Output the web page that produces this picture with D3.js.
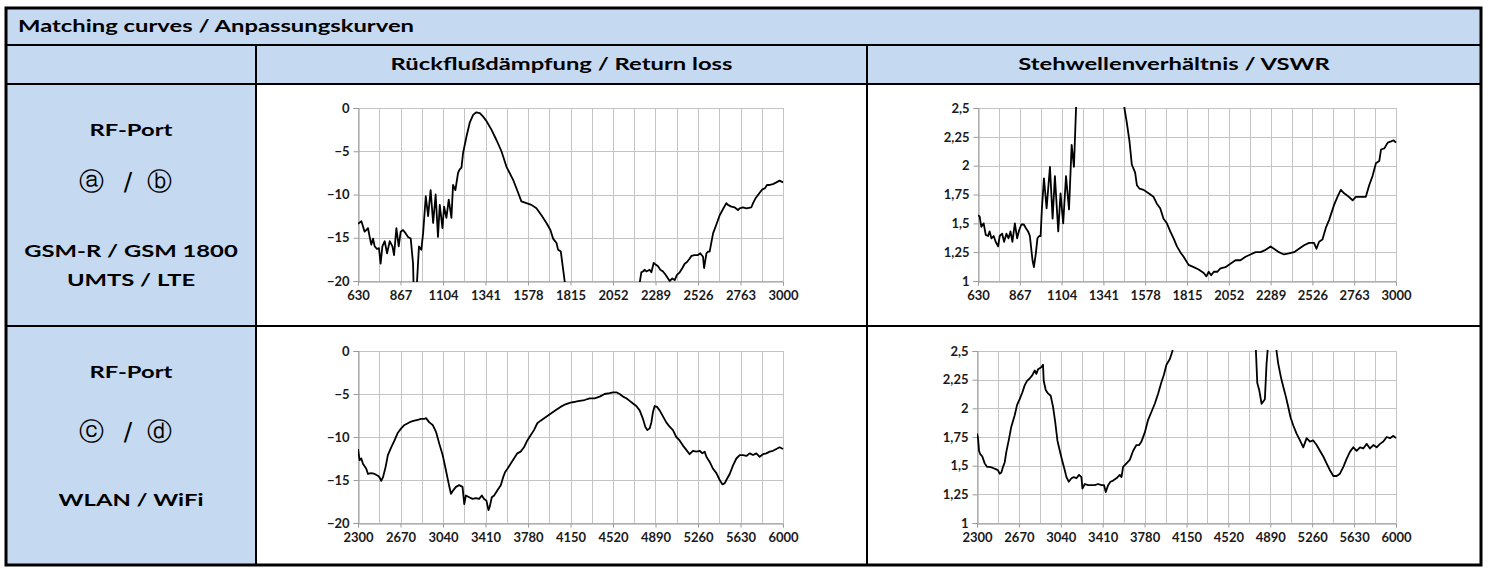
<!DOCTYPE html>
<html>
<head>
<meta charset="utf-8">
<script src="https://cdn.jsdelivr.net/npm/d3@7"></script>
<style>
    body { margin: 0; background: #fff; }
    text { font-family: Lato, "Open Sans", sans-serif; }
</style>
</head>
<body>
<svg id="chart"></svg>
<script>
"use strict";

/** 表头文字 */
const titleText = "Matching curves / Anpassungskurven";
const columnHeads = ["Rückflußdämpfung / Return loss", "Stehwellenverhältnis / VSWR"];
const rowLabels = [
    { port: "RF-Port", letters: ["ⓐ", "/", "ⓑ"], bands: ["GSM-R / GSM 1800", "UMTS / LTE"] },
    { port: "RF-Port", letters: ["ⓒ", "/", "ⓓ"], bands: ["WLAN / WiFi"] }
];

/** 坐标轴刻度 */
const xTicksAB = [630, 867, 1104, 1341, 1578, 1815, 2052, 2289, 2526, 2763, 3000];
const xTicksCD = [2300, 2670, 3040, 3410, 3780, 4150, 4520, 4890, 5260, 5630, 6000];
const rlTicks = [0, -5, -10, -15, -20];
const vswrTicks = [2.5, 2.25, 2, 1.75, 1.5, 1.25, 1];

/** 端口 a/b 回波损耗 (MHz, dB) */
const rlAbFreq = [630, 636, 649, 667, 677, 686, 695, 704, 714, 723, 736, 747, 756, 766, 779, 792, 807, 822, 831, 844,
    857, 868, 881, 896, 909, 924, 937, 943, 953, 959, 970, 983, 993, 1008, 1021, 1035, 1049, 1063, 1076, 1086,
    1101, 1110, 1123, 1136, 1151, 1160, 1173, 1179, 1188, 1197, 1207, 1216, 1235, 1253, 1272, 1290, 1309, 1328,
    1346, 1374, 1402, 1430, 1458, 1495, 1523, 1541, 1569, 1597, 1625, 1653, 1681, 1703, 1718, 1737, 1746, 1761,
    1783, 1802, 1900, 2050, 2150, 2195, 2201, 2210, 2219, 2229, 2238, 2256, 2266, 2279, 2290, 2303, 2316, 2331,
    2346, 2359, 2368, 2383, 2396, 2409, 2424, 2439, 2452, 2465, 2480, 2489, 2507, 2526, 2539, 2554, 2560, 2573,
    2582, 2591, 2610, 2628, 2647, 2665, 2684, 2693, 2712, 2731, 2749, 2758, 2777, 2796, 2823, 2833, 2848, 2870,
    2885, 2898, 2911, 2926, 2944, 2963, 2981, 3000];
const rlAbVal = [-13.4, -13.3, -13.1, -14.3, -14.1, -13.9, -14.9, -15.8, -15.1, -16.0, -16.3, -16.2, -18.0, -16.0,
    -15.4, -16.8, -15.4, -16.0, -17.0, -13.9, -16.0, -14.3, -14.1, -14.5, -14.9, -15.1, -18.0, -23, -23, -20.1,
    -16.0, -16.4, -14.5, -10.2, -12.5, -9.5, -13.3, -10.0, -14.9, -11.2, -13.9, -11.4, -12.7, -10.6, -12.7, -8.9,
    -9.5, -8.7, -7.5, -7.1, -6.9, -5.2, -3.3, -1.7, -0.8, -0.5, -0.6, -1.0, -1.5, -2.5, -3.7, -5.0, -6.8, -8.3,
    -9.8, -10.8, -11.0, -11.2, -11.6, -12.4, -13.3, -14.1, -15.1, -15.6, -16.4, -16.6, -20.1, -22, -27, -28, -25,
    -21.5, -20.2, -19.0, -18.9, -18.7, -18.9, -18.7, -19.0, -17.9, -18.1, -18.3, -18.7, -18.9, -19.3, -19.7, -20.0,
    -19.7, -19.9, -19.3, -19.0, -18.5, -18.0, -17.8, -17.4, -17.1, -17.0, -17.0, -16.8, -17.2, -18.5, -16.8, -16.6,
    -16.6, -14.5, -13.5, -12.4, -11.7, -11.0, -11.2, -11.4, -11.5, -11.8, -11.6, -11.5, -11.6, -11.5, -11.0, -10.4,
    -9.8, -9.4, -9.3, -8.9, -8.9, -8.8, -8.6, -8.4, -8.6];

/** 端口 a/b 驻波比 */
const vswrAbFreq = [630, 639, 649, 662, 674, 687, 696, 706, 719, 730, 744, 753, 767, 778, 791, 803, 814, 825, 839,
    852, 863, 876, 890, 901, 914, 924, 939, 947, 958, 967, 977, 985, 992, 1004, 1019, 1038, 1053, 1066, 1085, 1098,
    1113, 1129, 1146, 1161, 1174, 1186, 1200, 1300, 1400, 1450, 1460, 1474, 1489, 1502, 1521, 1531, 1546, 1569,
    1597, 1625, 1644, 1663, 1682, 1701, 1720, 1739, 1758, 1777, 1796, 1824, 1853, 1881, 1910, 1925, 1938, 1952,
    1967, 1986, 2005, 2033, 2061, 2090, 2118, 2147, 2175, 2204, 2232, 2261, 2289, 2308, 2336, 2365, 2393, 2422,
    2450, 2479, 2507, 2535, 2549, 2564, 2583, 2602, 2621, 2649, 2668, 2687, 2706, 2725, 2754, 2772, 2801, 2829,
    2848, 2867, 2886, 2905, 2915, 2934, 2953, 2972, 2987, 3000];
const vswrAbVal = [1.57, 1.56, 1.47, 1.50, 1.40, 1.39, 1.43, 1.37, 1.39, 1.34, 1.30, 1.39, 1.41, 1.34, 1.41, 1.37,
    1.43, 1.34, 1.50, 1.37, 1.44, 1.49, 1.49, 1.46, 1.43, 1.39, 1.18, 1.12, 1.24, 1.37, 1.39, 1.39, 1.62, 1.89,
    1.63, 1.99, 1.54, 1.91, 1.43, 1.76, 1.50, 1.91, 1.62, 2.18, 1.99, 2.5, 3.2, 6, 4, 2.9, 2.5, 2.37, 2.21, 2.01,
    1.94, 1.83, 1.80, 1.79, 1.76, 1.73, 1.67, 1.63, 1.54, 1.50, 1.43, 1.37, 1.30, 1.25, 1.21, 1.14, 1.12, 1.10,
    1.07, 1.04, 1.08, 1.05, 1.08, 1.08, 1.11, 1.12, 1.15, 1.18, 1.18, 1.21, 1.23, 1.25, 1.25, 1.27, 1.30, 1.28,
    1.25, 1.23, 1.24, 1.25, 1.28, 1.31, 1.33, 1.33, 1.28, 1.34, 1.36, 1.46, 1.53, 1.66, 1.73, 1.79, 1.76, 1.74,
    1.70, 1.73, 1.73, 1.73, 1.83, 1.91, 2.02, 2.04, 2.14, 2.15, 2.20, 2.21, 2.22, 2.20];

/** 端口 c/d 回波损耗 */
const rlCdFreq = [2300, 2314, 2329, 2343, 2372, 2387, 2416, 2445, 2473, 2488, 2502, 2517, 2540, 2560, 2589, 2618,
    2647, 2676, 2705, 2734, 2762, 2791, 2820, 2849, 2878, 2892, 2921, 2950, 2979, 3008, 3037, 3066, 3089, 3109,
    3129, 3153, 3181, 3210, 3225, 3239, 3268, 3297, 3326, 3355, 3378, 3398, 3418, 3436, 3447, 3465, 3485, 3514,
    3543, 3563, 3580, 3601, 3629, 3658, 3687, 3716, 3745, 3774, 3803, 3832, 3861, 3890, 3933, 3976, 4020, 4063,
    4106, 4150, 4193, 4230, 4273, 4317, 4360, 4404, 4447, 4491, 4520, 4549, 4578, 4607, 4636, 4665, 4694, 4723,
    4752, 4781, 4801, 4819, 4839, 4854, 4868, 4883, 4903, 4926, 4955, 4984, 5013, 5042, 5071, 5100, 5129, 5158,
    5187, 5216, 5246, 5275, 5298, 5318, 5333, 5362, 5391, 5420, 5449, 5472, 5492, 5507, 5536, 5565, 5594, 5623,
    5652, 5681, 5710, 5739, 5768, 5797, 5826, 5855, 5884, 5913, 5942, 5971, 6000];
const rlCdVal = [-11.4, -12.7, -12.5, -13.1, -13.7, -14.3, -14.2, -14.3, -14.5, -14.7, -15.1, -14.7, -13.5, -12.1,
    -11.2, -10.4, -9.5, -9.0, -8.6, -8.4, -8.2, -8.1, -8.0, -7.9, -7.9, -7.8, -8.3, -8.6, -9.4, -10.8, -12.1,
    -13.9, -15.4, -16.6, -16.2, -15.8, -15.6, -15.8, -17.8, -16.8, -17.0, -17.2, -17.1, -17.2, -16.8, -17.2, -17.4,
    -18.5, -18.1, -17.0, -16.8, -16.2, -15.6, -14.7, -14.1, -13.7, -13.1, -12.5, -11.9, -11.7, -11.2, -10.4, -9.8,
    -9.2, -8.4, -8.1, -7.7, -7.3, -6.9, -6.5, -6.2, -6.0, -5.9, -5.8, -5.7, -5.5, -5.5, -5.3, -5.0, -4.9, -4.8,
    -4.8, -5.0, -5.3, -5.5, -5.8, -6.1, -6.4, -6.9, -7.9, -8.8, -9.2, -9.0, -8.3, -7.1, -6.4, -6.5, -6.9, -7.6,
    -8.3, -8.8, -9.2, -10.0, -10.4, -11.0, -11.5, -12.0, -11.6, -11.7, -11.6, -11.9, -11.7, -12.3, -12.9, -13.7,
    -14.2, -15.0, -15.5, -15.4, -15.0, -14.3, -13.3, -12.5, -12.1, -12.1, -12.2, -11.9, -12.1, -11.9, -12.3, -12.0,
    -11.9, -11.7, -11.6, -11.4, -11.2, -11.4];

/** 端口 c/d 驻波比 */
const vswrCdFreq = [2300, 2309, 2318, 2329, 2347, 2368, 2388, 2412, 2441, 2465, 2486, 2500, 2515, 2530, 2545, 2559,
    2580, 2603, 2633, 2654, 2677, 2701, 2721, 2742, 2765, 2789, 2810, 2824, 2839, 2854, 2869, 2883, 2889, 2907,
    2927, 2951, 2972, 2992, 3010, 3031, 3051, 3075, 3090, 3110, 3134, 3154, 3178, 3201, 3222, 3231, 3252, 3281,
    3310, 3340, 3369, 3399, 3422, 3437, 3458, 3478, 3502, 3531, 3561, 3576, 3590, 3620, 3649, 3679, 3708, 3732,
    3752, 3782, 3811, 3841, 3870, 3900, 3929, 3950, 3973, 4003, 4026, 4060, 4300, 4600, 4750, 4763, 4775, 4792,
    4813, 4828, 4842, 4857, 4866, 4880, 4930, 4945, 4960, 4984, 5004, 5028, 5049, 5069, 5093, 5122, 5152, 5181,
    5211, 5240, 5269, 5299, 5328, 5358, 5387, 5417, 5446, 5476, 5505, 5535, 5564, 5593, 5623, 5652, 5682, 5711,
    5741, 5770, 5800, 5829, 5859, 5888, 5918, 5947, 5977, 6000];
const vswrCdVal = [1.78, 1.74, 1.63, 1.60, 1.58, 1.52, 1.49, 1.49, 1.48, 1.47, 1.46, 1.43, 1.44, 1.49, 1.53, 1.62,
    1.72, 1.84, 1.94, 2.03, 2.08, 2.14, 2.20, 2.24, 2.26, 2.29, 2.33, 2.30, 2.34, 2.35, 2.36, 2.38, 2.24, 2.16,
    2.13, 2.11, 2.01, 1.87, 1.72, 1.63, 1.55, 1.46, 1.40, 1.36, 1.39, 1.40, 1.39, 1.42, 1.40, 1.30, 1.34, 1.33,
    1.33, 1.33, 1.34, 1.33, 1.33, 1.27, 1.33, 1.36, 1.37, 1.39, 1.42, 1.40, 1.49, 1.52, 1.55, 1.63, 1.68, 1.68,
    1.71, 1.79, 1.90, 1.97, 2.04, 2.13, 2.23, 2.29, 2.38, 2.43, 2.5, 2.8, 4.5, 4, 2.8, 2.5, 2.22, 2.16, 2.04,
    2.06, 2.08, 2.39, 2.5, 2.9, 2.9, 2.5, 2.39, 2.27, 2.19, 2.10, 2.01, 1.92, 1.85, 1.78, 1.72, 1.66, 1.74, 1.71,
    1.72, 1.68, 1.63, 1.58, 1.52, 1.46, 1.41, 1.41, 1.43, 1.49, 1.56, 1.62, 1.66, 1.63, 1.66, 1.65, 1.69, 1.65,
    1.68, 1.66, 1.69, 1.71, 1.75, 1.74, 1.76, 1.74];

/** 画布尺寸与表格框线位置 */
const width = 1488;
const height = 569;
const table = { left: 6, right: 1481, top: 8, titleBottom: 45, headBottom: 84, rowMid: 326, bottom: 565, col1: 256, col2: 867 };
const cellBlue = "#c5d9f1";
/** 表格文字横向拉宽比例（原图文字比 Lato 宽） */
const stretch = 1.4;

const svg = d3.select("#chart").attr("width", width).attr("height", height);

/**
 * 添加一段加粗表格文字
 * @param {number} x 锚点 x
 * @param {number} y 基线 y
 * @param {string} anchor 对齐方式
 */
const cellText = (x, y, str, anchor) => svg.append("text")
    .attr("transform", "translate(" + x + "," + y + ") scale(" + stretch + ",1)")
    .attr("text-anchor", anchor)
    .style("font-size", "17px").style("font-weight", "bold").attr("fill", "#000")
    .text(str);

// 单元格底色
svg.append("rect").attr("x", table.left).attr("y", table.top)
    .attr("width", table.right - table.left).attr("height", table.bottom - table.top).attr("fill", "#fff");
svg.append("rect").attr("x", table.left).attr("y", table.top)
    .attr("width", table.right - table.left).attr("height", table.headBottom - table.top).attr("fill", cellBlue);
svg.append("rect").attr("x", table.left).attr("y", table.headBottom)
    .attr("width", table.col1 - table.left).attr("height", table.bottom - table.headBottom).attr("fill", cellBlue);

// 标题文字
cellText(18, 32, titleText, "start");
columnHeads.forEach((h, i) => {
    const cx = i === 0 ? (table.col1 + table.col2) / 2 : (table.col2 + table.right) / 2;
    cellText(cx, 70, h, "middle");
});

// 左侧行标签
const rowTops = [table.headBottom, table.rowMid];
const letterDx = [-40, -3, 28];
rowLabels.forEach((row, i) => {
    const cx = (table.left + table.col1) / 2;
    const top = rowTops[i];
    cellText(cx, top + 52, row.port, "middle");
    const ly = top + (i === 0 ? 106 : 114);
    row.letters.forEach((l, j) => {
        svg.append("text").attr("x", cx + letterDx[j]).attr("y", ly)
            .attr("text-anchor", "middle")
            .style("font-family", "'DejaVu Sans', sans-serif").style("font-size", "25px")
            .text(l);
    });
    const bandY = i === 0 ? [top + 173, top + 202] : [top + 180];
    row.bands.forEach((b, j) => cellText(cx, bandY[j], b, "middle"));
});

// 框线
const lines = [
    [table.left, table.titleBottom, table.right, table.titleBottom],
    [table.left, table.headBottom, table.right, table.headBottom],
    [table.left, table.rowMid, table.right, table.rowMid],
    [table.col1, table.titleBottom, table.col1, table.bottom],
    [table.col2, table.titleBottom, table.col2, table.bottom]
];
svg.selectAll(".rule").data(lines).enter()
    .append("line").attr("class", "rule")
    .attr("x1", d => d[0]).attr("y1", d => d[1]).attr("x2", d => d[2]).attr("y2", d => d[3])
    .attr("stroke", "#000").attr("stroke-width", 2);
svg.append("rect").attr("x", table.left).attr("y", table.top)
    .attr("width", table.right - table.left).attr("height", table.bottom - table.top)
    .attr("fill", "none").attr("stroke", "#000").attr("stroke-width", 3);

/** 逗号小数点格式 */
const deLocale = d3.formatLocale({ decimal: ",", thousands: ".", grouping: [3], currency: ["", " €"] });
const fmtVswr = d => deLocale.format("~g")(d);

/**
 * 绘制单个曲线图
 */
const drawChart = (cfg, idx) => {
    const x = d3.scaleLinear().domain([cfg.xTicks[0], cfg.xTicks[cfg.xTicks.length - 1]]).range([cfg.x0, cfg.x1]);
    const y = d3.scaleLinear().domain(d3.extent(cfg.yTicks)).range([cfg.y1, cfg.y0]);
    const g = svg.append("g");
    const xd = x.domain();
    /** 竖向网格：每两个标签之间再加一条 */
    const vGrid = d3.range(21).map(i => xd[0] + (xd[1] - xd[0]) * i / 20);
    g.selectAll(".vg").data(vGrid).enter()
        .append("line").attr("class", "vg")
        .attr("x1", d => Math.round(x(d)) + 0.5).attr("x2", d => Math.round(x(d)) + 0.5)
        .attr("y1", cfg.y0).attr("y2", cfg.y1)
        .attr("stroke", "#c4c4c4").attr("stroke-width", 1);
    g.selectAll(".hg").data(cfg.yTicks).enter()
        .append("line").attr("class", "hg")
        .attr("x1", cfg.x0).attr("x2", cfg.x1)
        .attr("y1", d => Math.round(y(d)) + 0.5).attr("y2", d => Math.round(y(d)) + 0.5)
        .attr("stroke", "#c4c4c4").attr("stroke-width", 1);

    // 坐标轴
    const xAxis = g.append("g").attr("transform", "translate(0," + (Math.round(cfg.y1) + 0.5) + ")")
        .call(d3.axisBottom(x).tickValues(cfg.xTicks).tickSize(4).tickPadding(5).tickFormat(d3.format("d")));
    const yAxis = g.append("g").attr("transform", "translate(" + (Math.round(cfg.x0) + 0.5) + ",0)")
        .call(d3.axisLeft(y).tickValues(cfg.yTicks).tickSize(5).tickPadding(4).tickFormat(cfg.fmt));
    [xAxis, yAxis].forEach(a => {
        a.select(".domain").attr("stroke", "#9a9a9a");
        a.selectAll(".tick line").attr("stroke", "#9a9a9a");
        a.selectAll(".tick text").attr("fill", "#1a1a1a")
            .style("font-family", "Lato, sans-serif").style("font-size", "13px").style("font-weight", "bold");
    });

    // 曲线，超出绘图区的部分裁掉
    const clipId = "clip" + idx;
    svg.append("clipPath").attr("id", clipId)
        .append("rect").attr("x", cfg.x0).attr("y", cfg.y0 - 1)
        .attr("width", cfg.x1 - cfg.x0 + 1).attr("height", cfg.y1 - cfg.y0 + 2);
    const pts = cfg.freq.map((f, i) => [f, cfg.val[i]]);
    g.append("path").datum(pts)
        .attr("clip-path", "url(#" + clipId + ")")
        .attr("d", d3.line().x(d => x(d[0])).y(d => y(d[1])))
        .attr("fill", "none").attr("stroke", "#000").attr("stroke-width", 1.8)
        .attr("stroke-linejoin", "round");
};

const charts = [
    { x0: 358, x1: 783, y0: 108, y1: 281, xTicks: xTicksAB, yTicks: rlTicks, freq: rlAbFreq, val: rlAbVal, fmt: d3.format("d") },
    { x0: 978, x1: 1396, y0: 108, y1: 281, xTicks: xTicksAB, yTicks: vswrTicks, freq: vswrAbFreq, val: vswrAbVal, fmt: fmtVswr },
    { x0: 358, x1: 783, y0: 351, y1: 523, xTicks: xTicksCD, yTicks: rlTicks, freq: rlCdFreq, val: rlCdVal, fmt: d3.format("d") },
    { x0: 977, x1: 1396, y0: 351, y1: 523, xTicks: xTicksCD, yTicks: vswrTicks, freq: vswrCdFreq, val: vswrCdVal, fmt: fmtVswr }
];
charts.forEach(drawChart);
</script>
</body>
</html>
